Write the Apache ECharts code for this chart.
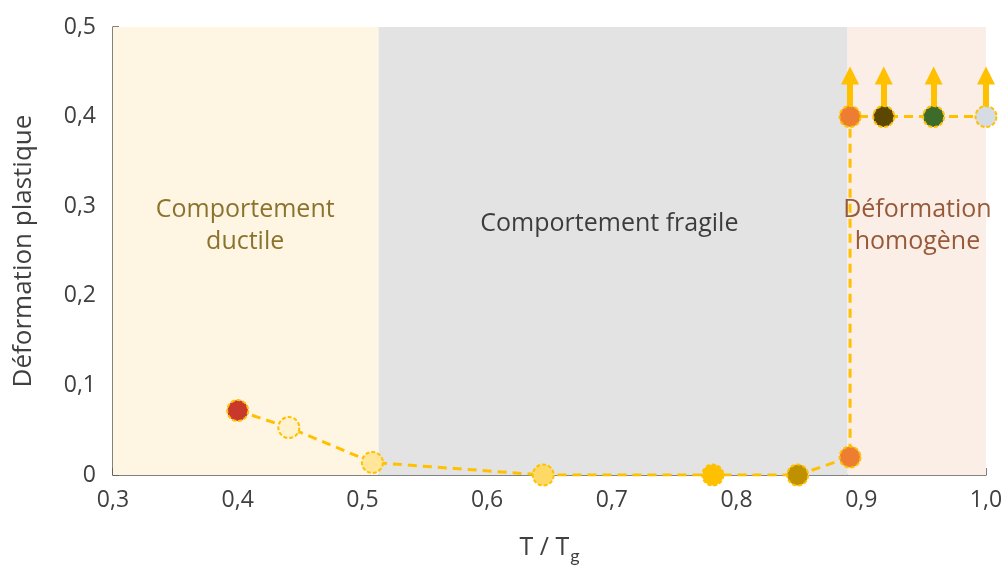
<!DOCTYPE html>
<html><head><meta charset="utf-8">
<script src="https://cdn.jsdelivr.net/npm/echarts@6/dist/echarts.min.js"></script>
<style>html,body{margin:0;padding:0;background:#fff}#c{width:1006px;height:566px}</style>
</head><body><div id="c"></div>
<script>
// Data
const xValues = [0.40, 0.441, 0.508, 0.645, 0.781, 0.849, 0.891, 0.891, 0.918, 0.958, 1.0];
const yValues = [0.072, 0.053, 0.014, 0.0, 0.0, 0.0, 0.020, 0.40, 0.40, 0.40, 0.40];
const pointColors = ['#C9392B', '#FFF2CC', '#FFE699', '#FFD966', '#FFC000', '#BF9000', '#ED7D31', '#ED7D31', '#5C4700', '#3D6B2A', '#D6DCE4'];
const arrowX = [0.891, 0.918, 0.958, 1.0];
const arrowFrom = 0.40;
const arrowTo = 0.446;
const regionNames = ['Comportement\nductile', 'Comportement fragile', 'Déformation\nhomogène'];
const regionStart = [0.3, 0.513, 0.889];
const regionEnd = [0.513, 0.889, 1.0];
const regionLabelX = [0.406, 0.698, 0.945];
const regionLabelY = [0.278, 0.28, 0.278];
const regionFill = ['#FFF5E3', '#E3E3E3', '#FAEEE6'];
const regionText = ['#6E5200', '#111111', '#7E330B'];
const xMin = 0.3, xMax = 1.0, yMin = 0, yMax = 0.5;

const fmt = v => { const r = Math.round(v * 10) / 10; return r === 0 ? '0' : r.toFixed(1).replace('.', ','); };
const FONT = "'Open Sans', sans-serif";

const chart = echarts.init(document.getElementById('c'));
chart.setOption({
  animation: false,
  textStyle: { fontFamily: FONT },
  grid: { left: 113, right: 20, top: 27, bottom: 91, outerBoundsMode: 'none', containLabel: false },
  xAxis: {
    type: 'value', min: xMin, max: xMax, interval: 0.1,
    name: '{a|T / T}{s|g}', nameLocation: 'middle', nameGap: 56,
    nameTextStyle: { fontFamily: FONT, rich: { a: { fontSize: 25, color: '#404040', fontFamily: FONT }, s: { fontSize: 18, color: '#404040', verticalAlign: 'bottom', padding: [16, 0, 0, 1], fontFamily: 'Lato' } } },
    axisLine: { lineStyle: { color: '#595959', width: 1.5 } },
    axisTick: { inside: true, length: 7, lineStyle: { color: '#595959', width: 1.5 } },
    minorTick: { show: true, splitNumber: 5, length: 5, lineStyle: { color: '#595959', width: 1.5 } },
    axisLabel: { formatter: fmt, fontSize: 23, color: '#404040', margin: 14, fontFamily: FONT },
    splitLine: { show: false }
  },
  yAxis: {
    type: 'value', min: yMin, max: yMax, interval: 0.1,
    name: 'Déformation plastique', nameLocation: 'middle', nameGap: 76,
    nameTextStyle: { fontSize: 26, color: '#404040', fontFamily: FONT },
    axisLine: { show: true, lineStyle: { color: '#595959', width: 1.5 } },
    axisTick: { show: true, inside: true, length: 6, lineStyle: { color: '#595959', width: 1.5 } },
    axisLabel: { formatter: fmt, fontSize: 23, color: '#404040', margin: 17, fontFamily: FONT },
    splitLine: { show: false }
  },
  series: [
    {
      type: 'line', z: 1, data: [], silent: true,
      markArea: {
        silent: true, z: 1,
        data: regionStart.map((s, i) => [
          { xAxis: s, yAxis: yMin, itemStyle: { color: regionFill[i] } },
          { xAxis: regionEnd[i], yAxis: yMax }
        ])
      }
    },
    {
      type: 'scatter', z: 2, symbolSize: 0, silent: true,
      data: regionLabelX.map((x, i) => ({
        value: [x, regionLabelY[i]],
        label: { show: true, formatter: regionNames[i], position: 'inside', color: regionText[i], fontSize: 25, fontWeight: 500, lineHeight: 32, fontFamily: FONT }
      }))
    },
    {
      type: 'line', z: 3, silent: true, data: [],
      markLine: {
        silent: true, z: 3, symbol: ['none', 'triangle'], symbolSize: [18, 18],
        label: { show: false },
        lineStyle: { color: '#FFC000', width: 6, type: 'solid', opacity: 1 },
        data: arrowX.map(x => [{ coord: [x, arrowFrom] }, { coord: [x, arrowTo] }])
      }
    },
    {
      type: 'line', z: 10,
      data: xValues.map((x, i) => ({ value: [x, yValues[i]], itemStyle: { color: pointColors[i] } })),
      lineStyle: { color: '#FFC000', width: 3, type: [9, 6] },
      symbol: 'circle', symbolSize: 21, showAllSymbol: true,
      itemStyle: { borderColor: '#FFC000', borderWidth: 2, borderType: [4, 2] }
    }
  ]
});
</script>
</body></html>
